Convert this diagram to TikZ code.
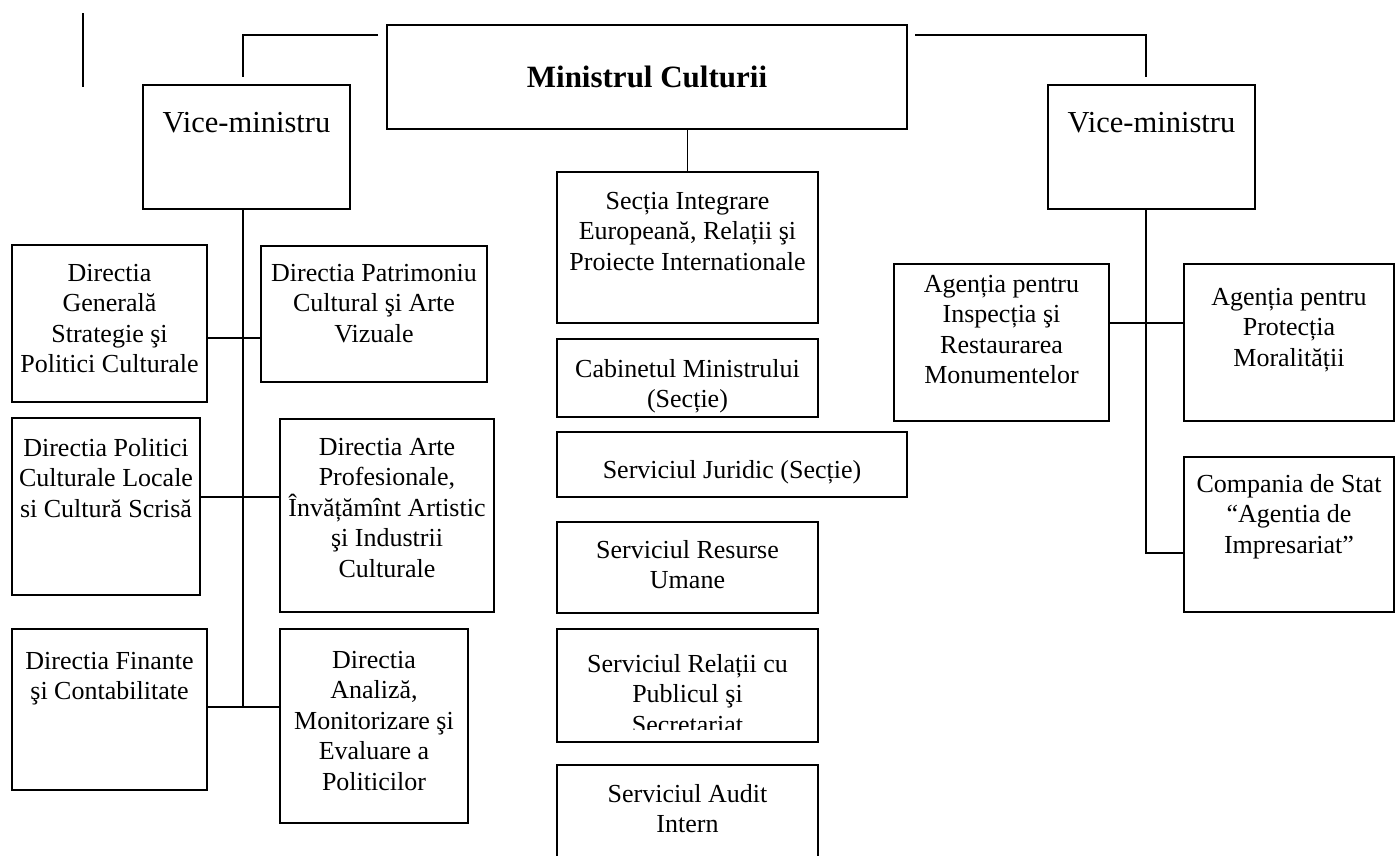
\documentclass[tikz,border=0pt]{standalone}
\usepackage{fontspec}
\setmainfont{Liberation Serif}
\usetikzlibrary{positioning}

\tikzset{
  box/.style={draw, line width=2pt, anchor=north west, inner sep=0pt, outer sep=0pt},
  thinbox/.style={box, line width=1.5pt},
  txt/.style={align=center, inner sep=0pt, font=\fontsize{26}{30.5}\selectfont},
  conn/.style={line width=1.4pt},
}

\begin{document}
\begin{tikzpicture}[x=1pt,y=-1pt]

% Khung
\useasboundingbox (0,0) rectangle (1396,855);
\clip (0,0) rectangle (1396,855);
\fill[white] (0,0) rectangle (1396,855);
\draw[line width=2pt] (83,13) -- (83,87);

% Ministrul si vice-ministrii
\node[box, minimum width=520, minimum height=104, font=\bfseries\fontsize{31}{36}\selectfont] (min) at (387,25) {Ministrul Culturii};
\node[box, minimum width=207, minimum height=124] (vml) at (143,85) {};
\node[txt, font=\fontsize{30.5}{36}\selectfont, below=27pt of vml.north] (vml-t) {Vice-ministru};
\node[box, minimum width=207, minimum height=124] (vmr) at (1048,85) {};
\node[txt, font=\fontsize{30.5}{36}\selectfont, below=27pt of vmr.north] (vmr-t) {Vice-ministru};

% Directii (stanga)
\node[box, minimum width=195, minimum height=157] (dgsp) at (12,245) {};
\node[txt, below=19pt of dgsp.north] (dgsp-t) {Directia\\Generală\\Strategie şi\\Politici Culturale};
\node[box, minimum width=226, minimum height=136] (dpcav) at (261,246) {};
\node[txt, below=18pt of dpcav.north] (dpcav-t) {Directia Patrimoniu\\Cultural şi Arte\\Vizuale};
\node[box, minimum width=188, minimum height=177] (dpcl) at (12,418) {};
\node[txt, below=20pt of dpcl.north] (dpcl-t) {Directia Politici\\Culturale Locale\\si Cultură Scrisă};
\node[box, minimum width=214, minimum height=193] (dapi) at (280,419) {};
\node[txt, below=19pt of dapi.north] (dapi-t) {Directia Arte\\Profesionale,\\Învățămînt Artistic\\şi Industrii\\Culturale};
\node[box, minimum width=195, minimum height=161] (dfc) at (12,629) {};
\node[txt, below=23pt of dfc.north] (dfc-t) {Directia Finante\\şi Contabilitate};
\node[box, minimum width=188, minimum height=194] (damep) at (280,629) {};
\node[txt, below=22pt of damep.north] (damep-t) {Directia\\Analiză,\\Monitorizare şi\\Evaluare a\\Politicilor};

% Sectii si servicii (mijloc)
\node[box, minimum width=261, minimum height=151] (sec) at (557,172) {};
\node[txt, below=20pt of sec.north] (sec-t) {Secția Integrare\\Europeană, Relații şi\\Proiecte Internationale};
\node[box, minimum width=261, minimum height=78] (cab) at (557,339) {};
\node[txt, below=20pt of cab.north] (cab-t) {Cabinetul Ministrului\\(Secție)};
\node[thinbox, minimum width=350, minimum height=65] (jur) at (557,432) {};
\node[txt, below=28pt of jur.north] (jur-t) {Serviciul Juridic (Secție)};
\node[thinbox, minimum width=261, minimum height=91] (res) at (557,522) {};
\node[txt, below=18pt of res.north] (res-t) {Serviciul Resurse\\Umane};
\node[thinbox, minimum width=261, minimum height=113] (rel) at (557,629) {};
\begin{scope}
  \clip (557,629) rectangle (818,729);
  \node[txt, below=25pt of rel.north] (rel-t) {Serviciul Relații cu\\Publicul şi\\Secretariat};
\end{scope}
\node[thinbox, minimum width=261, minimum height=105] (aud) at (557,765) {};
\node[txt, below=19pt of aud.north] (aud-t) {Serviciul Audit\\Intern};

% Agentii (dreapta)
\node[box, minimum width=215, minimum height=157] (airm) at (894,264) {};
\node[txt, below=11pt of airm.north] (airm-t) {Agenția pentru\\Inspecția şi\\Restaurarea\\Monumentelor};
\node[box, minimum width=210, minimum height=157] (apm) at (1184,264) {};
\node[txt, below=24pt of apm.north] (apm-t) {Agenția pentru\\Protecția\\Moralității};
\node[box, minimum width=210, minimum height=155] (comp) at (1184,457) {};
\node[txt, below=17pt of comp.north] (comp-t) {Compania de Stat\\“Agentia de\\Impresariat”};

% Legaturi sus
\coordinate (tl) at (243,77);
\coordinate (tr) at (1146,77);
\draw[conn] ([xshift=-9pt,yshift=-10pt]min.north west) -| (tl);
\draw[conn] ([xshift=8pt,yshift=-10pt]min.north east) -| (tr);
\draw[conn] (min.south -| sec.north) -- (sec.north);

% Legaturi stanga
\coordinate (jl1) at (243,338);
\coordinate (jl2) at (243,497);
\coordinate (jl3) at (243,707);
\draw[conn] (vml.south -| jl1) -- (jl3);
\draw[conn] (dgsp.east |- jl1) -- (dpcav.west |- jl1);
\draw[conn] (dpcl.east |- jl2) -- (dapi.west |- jl2);
\draw[conn] (dfc.east |- jl3) -- (damep.west |- jl3);

% Legaturi dreapta
\coordinate (jr1) at (1146,323);
\coordinate (jr2) at (1146,553);
\draw[conn] (vmr.south -| jr1) -- (jr2) -- (comp.west |- jr2);
\draw[conn] (airm.east |- jr1) -- (apm.west |- jr1);

\end{tikzpicture}
\end{document}
